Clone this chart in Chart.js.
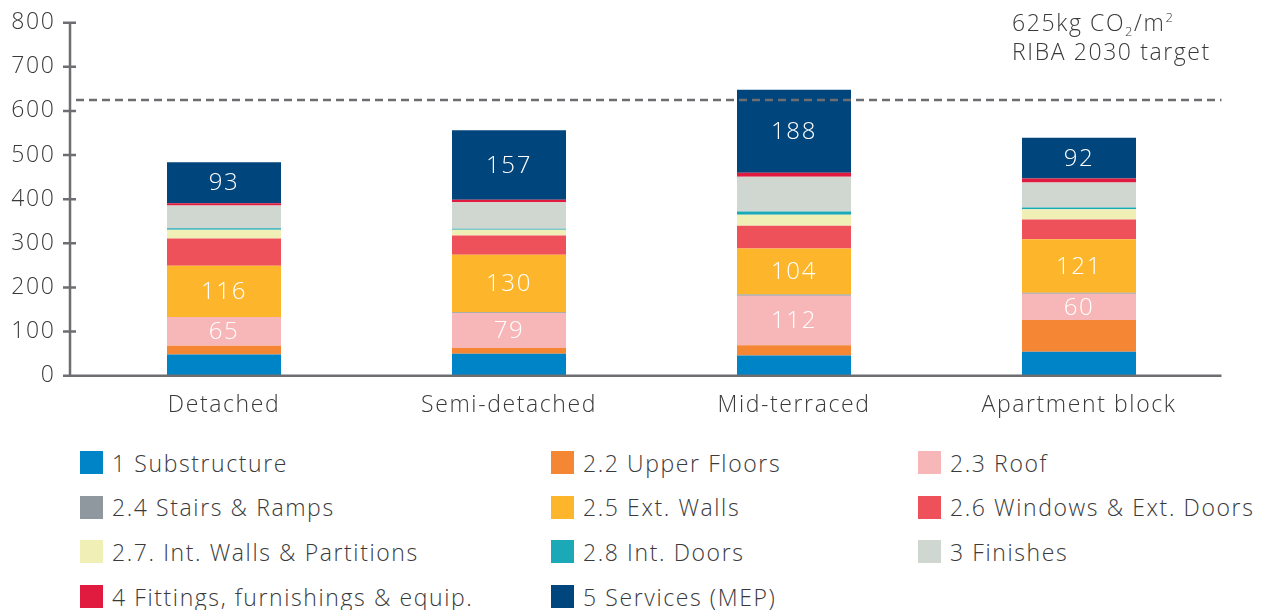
<!DOCTYPE html>
<html>
<head>
<meta charset="utf-8">
<script src="https://cdn.jsdelivr.net/npm/chart.js@4"></script>
<style>
    body { margin: 0; background: #fff; width: 1267px; height: 610px; overflow: hidden; position: relative; }
    #wrap { position: absolute; left: 0; top: 0; width: 1267px; height: 440px; }
    #legend {
        position: absolute; left: 80px; top: 451px;
        display: grid; grid-template-columns: 471px 367px 330px; grid-auto-rows: 44.7px;
        font-family: "Open Sans", sans-serif; font-weight: 300; font-size: 23px; color: #3a3a3c;
        letter-spacing: 1.6px;
    }
    .item { display: flex; align-items: center; height: 23px; white-space: nowrap; }
    .box { width: 23px; height: 23px; margin-right: 9px; flex: none; }
</style>
</head>
<body>
<div id="wrap"><canvas id="chart"></canvas></div>
<div id="legend"></div>
<script>
const categories = ['Detached', 'Semi-detached', 'Mid-terraced', 'Apartment block'];
const yTicks = [0, 100, 200, 300, 400, 500, 600, 700, 800];

const substructure = [48, 50, 46, 54];
const upperFloors = [20, 13, 23, 72];
const roof = [65, 79, 112, 60];
const stairs = [0, 2, 3, 2];
const extWalls = [116, 130, 104, 121];
const windowsDoors = [62, 44, 52, 45];
const intWalls = [20, 13, 25, 23];
const intDoors = [3, 2, 7, 4];
const finishes = [52, 60, 79, 57];
const fittings = [5, 6, 9, 9];
const services = [93, 157, 188, 92];

const ribaTarget = 625;

const series = [
    { label: '1 Substructure', data: substructure, color: '#0084c8' },
    { label: '2.2 Upper Floors', data: upperFloors, color: '#f58634' },
    { label: '2.3 Roof', data: roof, color: '#f7b6b7', showValues: true },
    { label: '2.4 Stairs & Ramps', data: stairs, color: '#8e989e' },
    { label: '2.5 Ext. Walls', data: extWalls, color: '#fdb62b', showValues: true },
    { label: '2.6 Windows & Ext. Doors', data: windowsDoors, color: '#ef515b' },
    { label: '2.7. Int. Walls & Partitions', data: intWalls, color: '#f0efb6' },
    { label: '2.8 Int. Doors', data: intDoors, color: '#1ba9b8' },
    { label: '3 Finishes', data: finishes, color: '#d0d7d0' },
    { label: '4 Fittings, furnishings & equip.', data: fittings, color: '#e11a3f' },
    { label: '5 Services (MEP)', data: services, color: '#00457c', showValues: true }
];

const AXIS = '#6d6e71';
const TEXT = '#3a3a3c';
const FONT = '"Open Sans", sans-serif';
const SPACING = '1.6px';

// wider letter spacing to get closer to the original typeface
const spacing = {
    id: 'spacing',
    beforeLayout(chart) { chart.ctx.letterSpacing = SPACING; },
    beforeDraw(chart) { chart.ctx.letterSpacing = SPACING; }
};

// axis lines, target line and annotation
const decorations = {
    id: 'decorations',
    afterDatasetsDraw(chart) {
        const { ctx, chartArea, scales } = chart;
        const y = scales.y;
        const axisX = chartArea.left - 11.5;
        ctx.save();
        ctx.strokeStyle = AXIS;
        ctx.lineWidth = 2.5;
        ctx.beginPath();
        ctx.moveTo(axisX, y.getPixelForValue(800));
        ctx.lineTo(axisX, y.getPixelForValue(0));
        ctx.lineTo(chartArea.right, y.getPixelForValue(0));
        yTicks.forEach(t => {
            const py = y.getPixelForValue(t);
            ctx.moveTo(axisX - 7, py);
            ctx.lineTo(axisX + (t === 0 ? 0 : 6), py);
        });
        ctx.stroke();

        // target line
        const ty = y.getPixelForValue(ribaTarget);
        ctx.setLineDash([8, 5]);
        ctx.beginPath();
        ctx.moveTo(axisX + 6, ty);
        ctx.lineTo(chartArea.right, ty);
        ctx.stroke();
        ctx.setLineDash([]);

        // annotation
        ctx.fillStyle = TEXT;
        ctx.textBaseline = 'alphabetic';
        ctx.textAlign = 'left';
        const x0 = 1012;
        let x = x0;
        const part = (txt, size, dy) => {
            ctx.font = '300 ' + size + 'px ' + FONT;
            ctx.fillText(txt, x, 31 + dy);
            x += ctx.measureText(txt).width;
        };
        part('625kg CO', 23, 0);
        part('2', 13, 5);
        part('/m', 23, 0);
        part('2', 13, -9);
        ctx.font = '300 23px ' + FONT;
        ctx.fillText('RIBA 2030 target', x0, 60);

        // value labels
        ctx.fillStyle = '#ffffff';
        ctx.textAlign = 'center';
        ctx.textBaseline = 'middle';
        ctx.font = '300 24px ' + FONT;
        chart.data.datasets.forEach((ds, i) => {
            if (!ds.showValues) return;
            chart.getDatasetMeta(i).data.forEach((bar, j) => {
                const mid = (bar.y + bar.base) / 2;
                ctx.fillText(String(ds.data[j]), bar.x, mid + 1);
            });
        });
        ctx.restore();
    }
};

new Chart(document.getElementById('chart'), {
    type: 'bar',
    data: {
        labels: categories,
        datasets: series.map(s => ({
            label: s.label,
            data: s.data,
            backgroundColor: s.color,
            borderWidth: 0,
            showValues: !!s.showValues
        }))
    },
    options: {
        responsive: true,
        maintainAspectRatio: false,
        animation: false,
        datasets: { bar: { categoryPercentage: 0.4, barPercentage: 1 } },
        layout: { padding: { top: 22.7, right: 45.5, left: 0, bottom: 0 } },
        plugins: { legend: { display: false }, tooltip: { enabled: false } },
        scales: {
            x: {
                stacked: true,
                grid: { display: false, drawTicks: false },
                border: { display: false },
                ticks: { color: TEXT, padding: 16, font: { family: FONT, size: 23, weight: 300 } },
                afterFit(scale) { scale.height = 64.3; scale.paddingLeft = 0; scale.paddingRight = 0; }
            },
            y: {
                stacked: true,
                min: 0,
                max: 800,
                grid: { display: false, drawTicks: false },
                border: { display: false },
                ticks: { stepSize: 100, color: TEXT, padding: 26, font: { family: FONT, size: 23, weight: 300 } },
                afterFit(scale) { scale.width = 81.5; scale.paddingTop = 0; scale.paddingBottom = 0; }
            }
        }
    },
    plugins: [spacing, decorations]
});

// html legend in three columns
const legend = document.getElementById('legend');
series.forEach(s => {
    const item = document.createElement('div');
    item.className = 'item';
    item.innerHTML = `<span class="box" style="background:${s.color}"></span><span>${s.label}</span>`;
    legend.appendChild(item);
});
</script>
</body>
</html>
